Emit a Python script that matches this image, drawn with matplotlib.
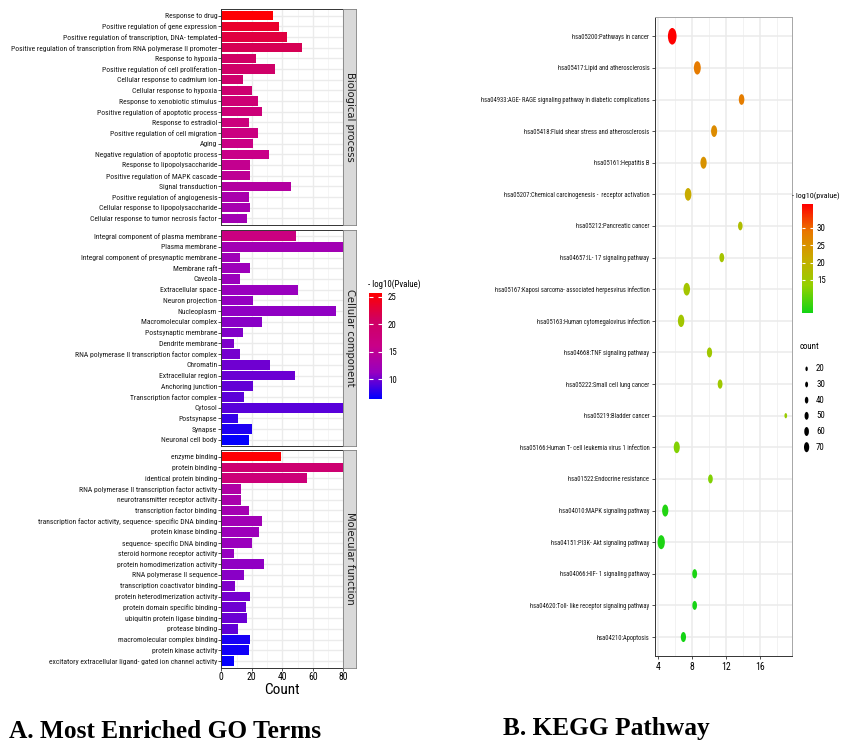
import numpy as np
import matplotlib
matplotlib.use('Agg')
import matplotlib.pyplot as plt
from matplotlib import font_manager
from matplotlib.colors import LinearSegmentedColormap, Normalize
from matplotlib.path import Path
import matplotlib.cm as cm

W, H, DPI = 841, 743, 100

# ---------------- GO data ----------------
bp_terms = ["Response to drug", "Positive regulation of gene expression",
            "Positive regulation of transcription, DNA- templated",
            "Positive regulation of transcription from RNA polymerase II promoter",
            "Response to hypoxia", "Positive regulation of cell proliferation",
            "Cellular response to cadmium ion", "Cellular response to hypoxia",
            "Response to xenobiotic stimulus", "Positive regulation of apoptotic process",
            "Response to estradiol", "Positive regulation of cell migration", "Aging",
            "Negative regulation of apoptotic process", "Response to lipopolysaccharide",
            "Positive regulation of MAPK cascade", "Signal transduction",
            "Positive regulation of angiogenesis", "Cellular response to lipopolysaccharide",
            "Cellular response to tumor necrosis factor"]
bp_count = [34, 38, 43, 53, 23, 35, 14, 20, 24, 27, 18, 24, 21, 31, 19, 19, 46, 18, 19, 17]
bp_logp = [25.5, 23.5, 22.5, 21.5, 20.5, 20.0, 19.5, 19.0, 18.5, 18.0, 17.5, 17.0, 16.5,
           16.0, 15.5, 15.0, 14.0, 13.0, 12.7, 12.3]

cc_terms = ["Integral component of plasma membrane", "Plasma membrane",
            "Integral component of presynaptic membrane", "Membrane raft", "Caveola",
            "Extracellular space", "Neuron projection", "Nucleoplasm",
            "Macromolecular complex", "Postsynaptic membrane", "Dendrite membrane",
            "RNA polymerase II transcription factor complex", "Chromatin",
            "Extracellular region", "Anchoring junction", "Transcription factor complex",
            "Cytosol", "Postsynapse", "Synapse", "Neuronal cell body"]
cc_count = [49, 88, 12, 19, 12, 50, 21, 75, 27, 14, 8, 12, 32, 48, 21, 15, 92, 11, 20, 18]
cc_logp = [17.0, 12.3, 12.0, 11.8, 11.6, 11.4, 11.2, 11.0, 10.8, 10.6, 10.4, 10.2, 10.0,
           9.8, 9.6, 9.4, 9.2, 8.2, 7.4, 6.6]

mf_terms = ["enzyme binding", "protein binding", "identical protein binding",
            "RNA polymerase II transcription factor activity",
            "neurotransmitter receptor activity", "transcription factor binding",
            "transcription factor activity, sequence- specific DNA binding",
            "protein kinase binding", "sequence- specific DNA binding",
            "steroid hormone receptor activity", "protein homodimerization activity",
            "RNA polymerase II sequence", "transcription coactivator binding",
            "protein heterodimerization activity", "protein domain specific binding",
            "ubiquitin protein ligase binding", "protease binding",
            "macromolecular complex binding", "protein kinase activity",
            "excitatory extracellular ligand- gated ion channel activity"]
mf_count = [39, 86, 56, 13, 13, 18, 27, 25, 20, 8, 28, 15, 9, 19, 16, 17, 11, 19, 18, 8]
mf_logp = [25.5, 19.0, 18.0, 13.5, 13.0, 12.5, 12.2, 11.8, 11.5, 11.3, 11.0, 10.8, 10.5,
           10.2, 10.0, 9.8, 9.5, 7.2, 7.0, 6.6]

go_facets = ["Biological process", "Cellular component", "Molecular function"]
go_xticks = [0, 20, 40, 60, 80]
go_cbar_ticks = [10, 15, 20, 25]

# ---------------- KEGG data ----------------
kegg_terms = ["hsa05200:Pathways in cancer", "hsa05417:Lipid and atherosclerosis",
              "hsa04933:AGE- RAGE signaling pathway in diabetic complications",
              "hsa05418:Fluid shear stress and atherosclerosis", "hsa05161:Hepatitis B",
              "hsa05207:Chemical carcinogenesis -  receptor activation",
              "hsa05212:Pancreatic cancer", "hsa04657:IL- 17 signaling pathway",
              "hsa05167:Kaposi sarcoma- associated herpesvirus infection",
              "hsa05163:Human cytomegalovirus infection", "hsa04668:TNF signaling pathway",
              "hsa05222:Small cell lung cancer", "hsa05219:Bladder cancer",
              "hsa05166:Human T- cell leukemia virus 1 infection",
              "hsa01522:Endocrine resistance", "hsa04010:MAPK signaling pathway",
              "hsa04151:PI3K- Akt signaling pathway", "hsa04066:HIF- 1 signaling pathway",
              "hsa04620:Toll- like receptor signaling pathway", "hsa04210:Apoptosis"]
kegg_x = [5.69, 8.63, 13.82, 10.6, 9.36, 7.55, 13.67, 11.5, 7.39, 6.73, 10.06, 11.3, 19.0,
          6.22, 10.17, 4.87, 4.4, 8.32, 8.32, 7.0]
kegg_count = [130, 100, 76, 85, 88, 94, 58, 63, 94, 91, 70, 63, 26, 85, 60, 88, 106, 63, 60, 70]
kegg_logp = [36.7, 28.3, 28.0, 26.0, 24.9, 21.2, 17.4, 15.9, 15.8, 15.5, 15.2, 15.0, 14.2,
             12.4, 12.2, 6.5, 6.2, 6.0, 5.8, 5.6]
kegg_xticks = [4, 8, 12, 16]
kegg_cbar_ticks = [15, 20, 25, 30]
count_breaks = [20, 30, 40, 50, 60, 70]

# ---------------- styling helpers ----------------
avail = {f.name for f in font_manager.fontManager.ttflist}
NARROW = next((f for f in ['Liberation Sans Narrow', 'DejaVu Sans Condensed', 'Roboto Condensed',
                           'Liberation Sans'] if f in avail), 'DejaVu Sans')
SERIF = 'Liberation Serif' if 'Liberation Serif' in avail else 'DejaVu Serif'

go_cmap = LinearSegmentedColormap.from_list(
    'go', ['#0000FF', '#9700C0', '#C90088', '#D00061', '#FF0000'])
kegg_cmap = LinearSegmentedColormap.from_list(
    'kegg', ['#14D414', '#94D000', '#C8AB00', '#E97700', '#FF0000'])
go_norm = Normalize(6.4, 25.7)
kegg_norm = Normalize(5.6, 36.7)

fig = plt.figure(figsize=(W / DPI, H / DPI), dpi=DPI)
fig.patch.set_facecolor('white')


def rect(x0, y0, x1, y1):
    return [x0 / W, 1 - y1 / H, (x1 - x0) / W, (y1 - y0) / H]


def fit_size(s, family, target, base=10.0, **kw):
    t = fig.text(0, 0, s, fontsize=base, family=family, **kw)
    r = fig.canvas.get_renderer()
    w = t.get_window_extent(renderer=r).width
    t.remove()
    return base * target / w


go_fs = fit_size(bp_terms[3], NARROW, 207)
kegg_fs = fit_size(kegg_terms[2], NARROW, 168)
small_fs = go_fs * 1.15
kleg_fs = fit_size('- log10(pvalue)', NARROW, 47)

GRID = '#EBEBEB'
DARK = '#333333'

# ---------------- GO panels ----------------
panels = [(bp_terms, bp_count, bp_logp, 9.3, 224.7),
          (cc_terms, cc_count, cc_logp, 229.6, 446.4),
          (mf_terms, mf_count, mf_logp, 450.2, 667.5)]
for i, (terms, cnt, lp, top, bot) in enumerate(panels):
    ax = fig.add_axes(rect(221.3, top, 343.3, bot))
    y = np.arange(len(terms))
    ax.barh(y, cnt, height=0.9, color=go_cmap(go_norm(np.array(lp))), zorder=2)
    ax.set_xlim(0, 80)
    ax.set_ylim(len(terms) - 0.4, -0.6)
    ax.set_yticks(y)
    ax.set_yticklabels(terms, fontsize=go_fs, family=NARROW, color='#1A1A1A')
    ax.set_xticks(go_xticks)
    ax.set_xticks([10, 30, 50, 70], minor=True)
    ax.grid(which='major', color=GRID, lw=1.0, zorder=0)
    ax.grid(which='minor', axis='x', color='#F4F4F4', lw=0.6, zorder=0)
    ax.set_axisbelow(True)
    ax.tick_params(axis='y', length=2, width=0.6, color=DARK, pad=1)
    ax.tick_params(axis='x', which='minor', length=0)
    if i < 2:
        ax.tick_params(axis='x', which='major', bottom=False, labelbottom=False)
    else:
        ax.set_xticklabels([str(v) for v in go_xticks], fontsize=small_fs * 1.1, family=NARROW)
        ax.tick_params(axis='x', which='major', length=2, width=0.6, color=DARK, pad=1)
        ax.set_xlabel('Count', fontsize=11, family=NARROW, labelpad=1)
    for sp in ax.spines.values():
        sp.set_color(DARK)
        sp.set_linewidth(0.7)
    sax = fig.add_axes(rect(343.3, top, 356.0, bot))
    sax.set_facecolor('#D9D9D9')
    sax.set_xticks([])
    sax.set_yticks([])
    for sp in sax.spines.values():
        sp.set_color('#7F7F7F')
        sp.set_linewidth(0.6)
    sax.text(0.5, 0.5, go_facets[i], rotation=270, ha='center', va='center',
             fontsize=7.2, color='#1A1A1A', transform=sax.transAxes)

# GO colorbar
cax = fig.add_axes(rect(369.3, 293, 382.3, 399))
cb = fig.colorbar(cm.ScalarMappable(norm=go_norm, cmap=go_cmap), cax=cax, ticks=go_cbar_ticks)
cb.outline.set_visible(False)
cax.tick_params(which='both', direction='in', color='white', length=3, width=0.8,
                left=True, right=True, labelsize=small_fs, pad=4)
for t in cax.get_yticklabels():
    t.set_family(NARROW)
fig.text(368 / W, 1 - 284 / H, '- log10(Pvalue)', fontsize=small_fs, family=NARROW,
         ha='left', va='center')

# ---------------- KEGG panel ----------------
circ = Path.unit_circle()
ellipse = Path(circ.vertices * np.array([0.52, 1.0]), circ.codes)


def count_to_s(c):
    h_px = 4.0 + (np.asarray(c, dtype=float) - 15.0) * 0.11
    return (h_px * 72.0 / DPI) ** 2


kx = fig.add_axes(rect(655, 17.3, 792, 656))
ky = np.arange(len(kegg_terms))
kx.scatter(kegg_x, ky, s=count_to_s(kegg_count), c=kegg_logp, cmap=kegg_cmap,
           norm=kegg_norm, marker=ellipse, linewidths=0, zorder=3)
kx.set_xlim(3.67, 19.73)
kx.set_ylim(len(kegg_terms) - 0.4, -0.6)
kx.set_yticks(ky)
kx.set_yticklabels(kegg_terms, fontsize=kegg_fs, family=NARROW, color='#1A1A1A')
kx.set_xticks(kegg_xticks)
kx.set_xticklabels([str(v) for v in kegg_xticks], fontsize=small_fs * 1.1, family=NARROW)
kx.set_xticks([6, 10, 14, 18], minor=True)
kx.grid(which='major', color=GRID, lw=1.1, zorder=0)
kx.grid(which='minor', axis='x', color='#F2F2F2', lw=0.7, zorder=0)
kx.set_axisbelow(True)
kx.tick_params(axis='both', which='major', length=2.5, width=0.6, color=DARK, pad=1.5)
kx.tick_params(axis='x', which='minor', length=0)
for name, sp in kx.spines.items():
    sp.set_linewidth(0.7)
    sp.set_color(DARK if name in ('left', 'bottom') else '#A6A6A6')

# KEGG colorbar
kcax = fig.add_axes(rect(802.3, 204.3, 812.7, 312.7))
kcb = fig.colorbar(cm.ScalarMappable(norm=kegg_norm, cmap=kegg_cmap), cax=kcax,
                   ticks=kegg_cbar_ticks)
kcb.outline.set_visible(False)
kcax.tick_params(which='both', direction='in', color='white', length=2.5, width=0.8,
                 left=True, right=True, labelsize=small_fs, pad=3)
for t in kcax.get_yticklabels():
    t.set_family(NARROW)
fig.text(792 / W, 1 - 196 / H, '- log10(pvalue)', fontsize=kleg_fs, family=NARROW,
         ha='left', va='center')

# count legend
lax = fig.add_axes(rect(798, 361, 841, 455))
lax.set_xlim(0, 1)
lax.set_ylim(len(count_breaks) - 0.5, -0.5)
lax.axis('off')
ly = np.arange(len(count_breaks))
lax.scatter(np.full(len(count_breaks), 0.2), ly, s=count_to_s(count_breaks), color='black',
            marker=ellipse, linewidths=0)
for yy, b in zip(ly, count_breaks):
    lax.text(0.42, yy, str(b), fontsize=small_fs, family=NARROW, va='center', ha='left')
fig.text(800 / W, 1 - 347 / H, 'count', fontsize=small_fs, family=NARROW,
         ha='left', va='center')

# ---------------- panel titles ----------------
fig.text(9 / W, 1 - 738 / H, 'A. Most Enriched GO Terms', family=SERIF, weight='bold',
         fontsize=18.3, ha='left', va='baseline')
fig.text(503 / W, 1 - 735 / H, 'B. KEGG Pathway', family=SERIF, weight='bold',
         fontsize=18.3, ha='left', va='baseline')

fig.savefig('out.png', dpi=DPI)
